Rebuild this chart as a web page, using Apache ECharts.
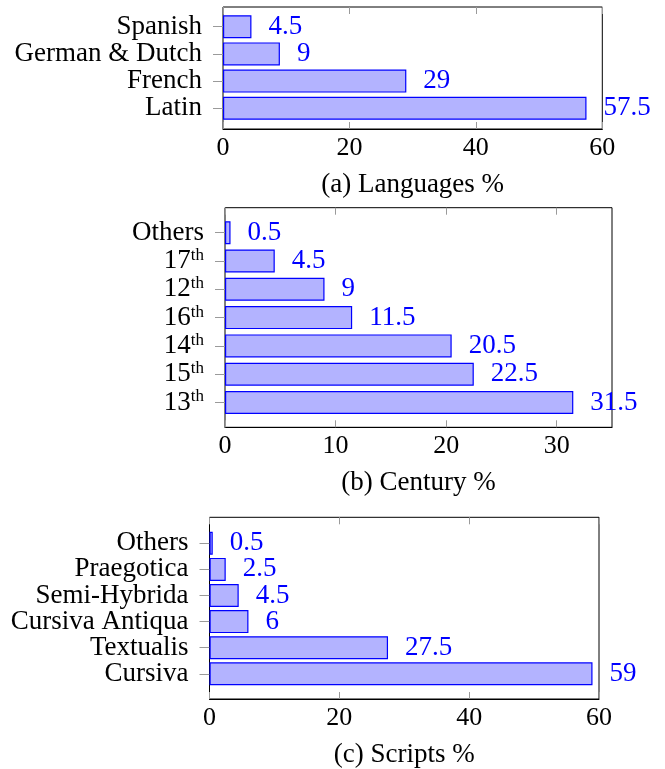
<!DOCTYPE html>
<html>
<head>
<meta charset="utf-8">
<title>Languages / Century / Scripts</title>
<script src="https://cdn.jsdelivr.net/npm/echarts@6/dist/echarts.min.js"></script>
<style>
  html, body { margin: 0; padding: 0; background: #fff; }
  #main { width: 665px; height: 769px; }
</style>
</head>
<body>
<div id="main"></div>
<script>
// data (top row first)
var langNames = ['Spanish', 'German & Dutch', 'French', 'Latin'];
var langValues = [4.5, 9, 29, 57.5];
var langTicks = [0, 20, 40, 60];

var centuryNames = ['Others', '17th', '12th', '16th', '14th', '15th', '13th'];
var centuryValues = [0.5, 4.5, 9, 11.5, 20.5, 22.5, 31.5];
var centuryTicks = [0, 10, 20, 30];

var scriptNames = ['Others', 'Praegotica', 'Semi-Hybrida', 'Cursiva Antiqua', 'Textualis', 'Cursiva'];
var scriptValues = [0.5, 2.5, 4.5, 6, 27.5, 59];
var scriptTicks = [0, 20, 40, 60];

var serif = '"Liberation Serif", "Times New Roman", serif';
var tickGray = '#9a9a9a';
var W = 665;

// layout of each panel (pixels)
var panels = [
  { names: langNames, values: langValues, ticks: langTicks, max: 60, caption: '(a) Languages %',
    x0: 223, x1: 602.3, y0: 7, y1: 129, first: 26.7, step: 27.2 },
  { names: centuryNames, values: centuryValues, ticks: centuryTicks, max: 35, caption: '(b) Century %',
    x0: 225, x1: 612, y0: 207.7, y1: 427.3, first: 232.7, step: 28.3 },
  { names: scriptNames, values: scriptValues, ticks: scriptTicks, max: 60, caption: '(c) Scripts %',
    x0: 209.5, x1: 599, y0: 517.3, y1: 700, first: 543.3, step: 26.1 }
];

function catLabel(v) {
  var m = /^(\d+)th$/.exec(v);
  return m ? '{n|' + m[1] + '}{s|th}' : '{n|' + v + '}';
}

var grid = [], xAxis = [], yAxis = [], series = [];

panels.forEach(function (p) {
  // frame grid: box, x ticks top and bottom, tick labels, caption
  var f = grid.length;
  grid.push({
    left: p.x0, right: W - p.x1, top: p.y0, height: p.y1 - p.y0,
    show: true, borderColor: '#000', borderWidth: 1, backgroundColor: 'transparent'
  });
  xAxis.push({
    gridIndex: f, type: 'value', min: 0, max: p.max, position: 'bottom',
    axisLine: { show: true, lineStyle: { color: '#000', width: 1 } },
    axisTick: { show: true, inside: true, length: 7, customValues: p.ticks, lineStyle: { color: tickGray } },
    axisLabel: { customValues: p.ticks, margin: 6, fontFamily: serif, fontSize: 26, color: '#000' },
    splitLine: { show: false },
    name: p.caption, nameLocation: 'middle', nameGap: 42,
    nameTextStyle: { fontFamily: serif, fontSize: 27, color: '#000' }
  });
  xAxis.push({
    gridIndex: f, type: 'value', min: 0, max: p.max, position: 'top',
    axisLine: { show: false },
    axisTick: { show: true, inside: true, length: 7, customValues: p.ticks, lineStyle: { color: tickGray } },
    axisLabel: { show: false },
    splitLine: { show: false }
  });
  yAxis.push({ gridIndex: f, type: 'value', show: false });

  // data grid: one band per category
  var d = grid.length;
  grid.push({
    left: p.x0, right: W - p.x1, top: p.first - p.step / 2, height: p.step * p.names.length
  });
  var xi = xAxis.length;
  xAxis.push({ gridIndex: d, type: 'value', min: 0, max: p.max, show: false });
  var yi = yAxis.length;
  yAxis.push({
    gridIndex: d, type: 'category', inverse: true, data: p.names,
    axisLine: { show: false },
    axisTick: { show: true, interval: 0, alignWithLabel: true, length: 10, lineStyle: { color: tickGray } },
    axisLabel: {
      interval: 0, hideOverlap: false, margin: 21, formatter: catLabel,
      rich: {
        n: { fontFamily: serif, fontSize: 27, color: '#000', lineHeight: 28 },
        s: { fontFamily: serif, fontSize: 17, color: '#000', verticalAlign: 'top', lineHeight: 14 }
      }
    },
    splitLine: { show: false }
  });
  series.push({
    type: 'bar', xAxisIndex: xi, yAxisIndex: yi, data: p.values, barWidth: 23,
    itemStyle: { color: '#b3b3ff', borderColor: '#0000ff', borderWidth: 1.2 },
    label: { show: true, position: 'right', distance: 17, color: '#0000ff', fontFamily: serif, fontSize: 27 }
  });
});

var chart = echarts.init(document.getElementById('main'));
chart.setOption({
  animation: false,
  backgroundColor: '#fff',
  grid: grid,
  xAxis: xAxis,
  yAxis: yAxis,
  series: series
});
</script>
</body>
</html>
